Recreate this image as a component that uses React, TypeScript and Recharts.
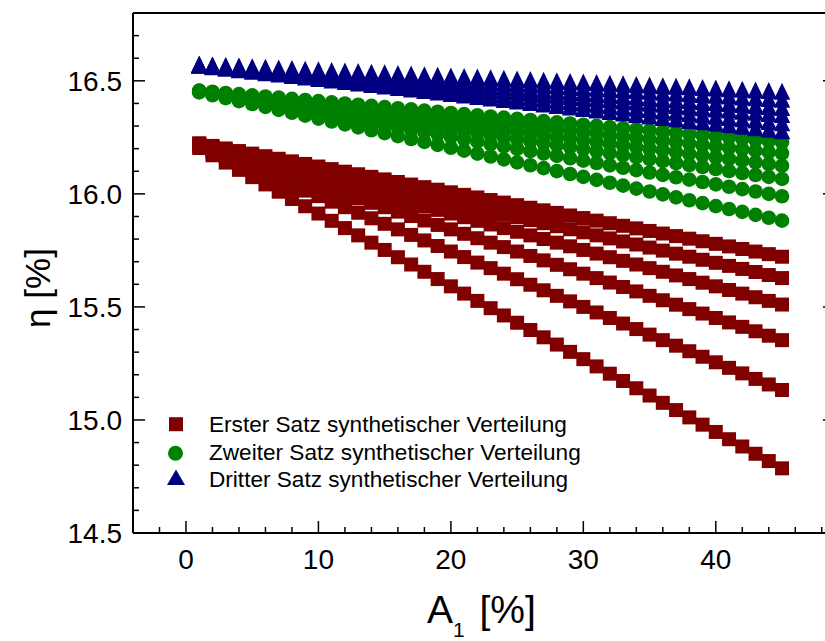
import { ScatterChart, Scatter, XAxis, YAxis, Legend } from 'recharts';

const FONT = '"Liberation Sans", Arial, Helvetica, sans-serif';

const A1 = [
  1, 2, 3, 4, 5, 6, 7, 8, 9, 10, 11, 12, 13, 14, 15, 16, 17, 18, 19, 20, 21, 22, 23,
  24, 25, 26, 27, 28, 29, 30, 31, 32, 33, 34, 35, 36, 37, 38, 39, 40, 41, 42, 43, 44, 45,
];

// Erster Satz (rot)
const erster1 = [
  16.2236, 16.2122, 16.2008, 16.1894, 16.178, 16.1666, 16.1552, 16.1438, 16.1324,
  16.121, 16.1096, 16.0982, 16.0868, 16.0754, 16.064, 16.0526, 16.0412, 16.0298,
  16.0184, 16.007, 15.9956, 15.9842, 15.9728, 15.9614, 15.95, 15.9386, 15.9272,
  15.9158, 15.9044, 15.893, 15.8816, 15.8702, 15.8588, 15.8474, 15.836, 15.8246,
  15.8132, 15.8018, 15.7904, 15.779, 15.7676, 15.7562, 15.7448, 15.7334, 15.722,
];
const erster2 = [
  16.2215, 16.208, 16.1945, 16.181, 16.1675, 16.154, 16.1405, 16.127, 16.1135,
  16.1, 16.0865, 16.073, 16.0595, 16.046, 16.0325, 16.019, 16.0055, 15.992,
  15.9785, 15.965, 15.9515, 15.938, 15.9245, 15.911, 15.8975, 15.884, 15.8705,
  15.857, 15.8435, 15.83, 15.8165, 15.803, 15.7895, 15.776, 15.7625, 15.749,
  15.7355, 15.722, 15.7085, 15.695, 15.6815, 15.668, 15.6545, 15.641, 15.6275,
];
const erster3 = [
  16.2189, 16.2028, 16.1867, 16.1706, 16.1545, 16.1384, 16.1223, 16.1062, 16.0901,
  16.074, 16.0579, 16.0418, 16.0257, 16.0096, 15.9935, 15.9774, 15.9613, 15.9452,
  15.9291, 15.913, 15.8969, 15.8808, 15.8647, 15.8486, 15.8325, 15.8164, 15.8003,
  15.7842, 15.7681, 15.752, 15.7359, 15.7198, 15.7037, 15.6876, 15.6715, 15.6554,
  15.6393, 15.6232, 15.6071, 15.591, 15.5749, 15.5588, 15.5427, 15.5266, 15.5105,
];
const erster4 = [
  16.2154, 16.1958, 16.1762, 16.1566, 16.137, 16.1174, 16.0978, 16.0782, 16.0586,
  16.039, 16.0194, 15.9998, 15.9802, 15.9606, 15.941, 15.9214, 15.9018, 15.8822,
  15.8626, 15.843, 15.8234, 15.8038, 15.7842, 15.7646, 15.745, 15.7254, 15.7058,
  15.6862, 15.6666, 15.647, 15.6274, 15.6078, 15.5882, 15.5686, 15.549, 15.5294,
  15.5098, 15.4902, 15.4706, 15.451, 15.4314, 15.4118, 15.3922, 15.3726, 15.353,
];
const erster5 = [
  16.2105, 16.186, 16.1615, 16.137, 16.1125, 16.088, 16.0635, 16.039, 16.0145,
  15.99, 15.9655, 15.941, 15.9165, 15.892, 15.8675, 15.843, 15.8185, 15.794,
  15.7695, 15.745, 15.7205, 15.696, 15.6715, 15.647, 15.6225, 15.598, 15.5735,
  15.549, 15.5245, 15.5, 15.4755, 15.451, 15.4265, 15.402, 15.3775, 15.353,
  15.3285, 15.304, 15.2795, 15.255, 15.2305, 15.206, 15.1815, 15.157, 15.1325,
];
const erster6 = [
  16.2028, 16.1706, 16.1384, 16.1062, 16.074, 16.0418, 16.0096, 15.9774, 15.9452,
  15.913, 15.8808, 15.8486, 15.8164, 15.7842, 15.752, 15.7198, 15.6876, 15.6554,
  15.6232, 15.591, 15.5588, 15.5266, 15.4944, 15.4622, 15.43, 15.3978, 15.3656,
  15.3334, 15.3012, 15.269, 15.2368, 15.2046, 15.1724, 15.1402, 15.108, 15.0758,
  15.0436, 15.0114, 14.9792, 14.947, 14.9148, 14.8826, 14.8504, 14.8182, 14.786,
];

// Zweiter Satz (gruen)
const zweiter1 = [
  16.4568, 16.4516, 16.4464, 16.4412, 16.436, 16.4308, 16.4256, 16.4204, 16.4152,
  16.41, 16.4048, 16.3996, 16.3944, 16.3892, 16.384, 16.3788, 16.3736, 16.3684,
  16.3632, 16.358, 16.3528, 16.3476, 16.3424, 16.3372, 16.332, 16.3268, 16.3216,
  16.3164, 16.3112, 16.306, 16.3008, 16.2956, 16.2904, 16.2852, 16.28, 16.2748,
  16.2696, 16.2644, 16.2592, 16.254, 16.2488, 16.2436, 16.2384, 16.2332, 16.228,
];
const zweiter2 = [
  16.4557, 16.4494, 16.4431, 16.4368, 16.4305, 16.4242, 16.4179, 16.4116, 16.4053,
  16.399, 16.3927, 16.3864, 16.3801, 16.3738, 16.3675, 16.3612, 16.3549, 16.3486,
  16.3423, 16.336, 16.3297, 16.3234, 16.3171, 16.3108, 16.3045, 16.2982, 16.2919,
  16.2856, 16.2793, 16.273, 16.2667, 16.2604, 16.2541, 16.2478, 16.2415, 16.2352,
  16.2289, 16.2226, 16.2163, 16.21, 16.2037, 16.1974, 16.1911, 16.1848, 16.1785,
];
const zweiter3 = [
  16.4545, 16.447, 16.4395, 16.432, 16.4245, 16.417, 16.4095, 16.402, 16.3945,
  16.387, 16.3795, 16.372, 16.3645, 16.357, 16.3495, 16.342, 16.3345, 16.327,
  16.3195, 16.312, 16.3045, 16.297, 16.2895, 16.282, 16.2745, 16.267, 16.2595,
  16.252, 16.2445, 16.237, 16.2295, 16.222, 16.2145, 16.207, 16.1995, 16.192,
  16.1845, 16.177, 16.1695, 16.162, 16.1545, 16.147, 16.1395, 16.132, 16.1245,
];
const zweiter4 = [
  16.4532, 16.4444, 16.4356, 16.4268, 16.418, 16.4092, 16.4004, 16.3916, 16.3828,
  16.374, 16.3652, 16.3564, 16.3476, 16.3388, 16.33, 16.3212, 16.3124, 16.3036,
  16.2948, 16.286, 16.2772, 16.2684, 16.2596, 16.2508, 16.242, 16.2332, 16.2244,
  16.2156, 16.2068, 16.198, 16.1892, 16.1804, 16.1716, 16.1628, 16.154, 16.1452,
  16.1364, 16.1276, 16.1188, 16.11, 16.1012, 16.0924, 16.0836, 16.0748, 16.066,
];
const zweiter5 = [
  16.4515, 16.441, 16.4305, 16.42, 16.4095, 16.399, 16.3885, 16.378, 16.3675,
  16.357, 16.3465, 16.336, 16.3255, 16.315, 16.3045, 16.294, 16.2835, 16.273,
  16.2625, 16.252, 16.2415, 16.231, 16.2205, 16.21, 16.1995, 16.189, 16.1785,
  16.168, 16.1575, 16.147, 16.1365, 16.126, 16.1155, 16.105, 16.0945, 16.084,
  16.0735, 16.063, 16.0525, 16.042, 16.0315, 16.021, 16.0105, 16.0, 15.9895,
];
const zweiter6 = [
  16.4491, 16.4362, 16.4233, 16.4104, 16.3975, 16.3846, 16.3717, 16.3588, 16.3459,
  16.333, 16.3201, 16.3072, 16.2943, 16.2814, 16.2685, 16.2556, 16.2427, 16.2298,
  16.2169, 16.204, 16.1911, 16.1782, 16.1653, 16.1524, 16.1395, 16.1266, 16.1137,
  16.1008, 16.0879, 16.075, 16.0621, 16.0492, 16.0363, 16.0234, 16.0105, 15.9976,
  15.9847, 15.9718, 15.9589, 15.946, 15.9331, 15.9202, 15.9073, 15.8944, 15.8815,
];

// Dritter Satz (blau)
const dritter1 = [
  16.5643, 16.5616, 16.5589, 16.5562, 16.5535, 16.5508, 16.5481, 16.5454, 16.5427,
  16.54, 16.5373, 16.5346, 16.5319, 16.5292, 16.5265, 16.5238, 16.5211, 16.5184,
  16.5157, 16.513, 16.5103, 16.5076, 16.5049, 16.5022, 16.4995, 16.4968, 16.4941,
  16.4914, 16.4887, 16.486, 16.4833, 16.4806, 16.4779, 16.4752, 16.4725, 16.4698,
  16.4671, 16.4644, 16.4617, 16.459, 16.4563, 16.4536, 16.4509, 16.4482, 16.4455,
];
const dritter2 = [
  16.5635, 16.56, 16.5565, 16.553, 16.5495, 16.546, 16.5425, 16.539, 16.5355,
  16.532, 16.5285, 16.525, 16.5215, 16.518, 16.5145, 16.511, 16.5075, 16.504,
  16.5005, 16.497, 16.4935, 16.49, 16.4865, 16.483, 16.4795, 16.476, 16.4725,
  16.469, 16.4655, 16.462, 16.4585, 16.455, 16.4515, 16.448, 16.4445, 16.441,
  16.4375, 16.434, 16.4305, 16.427, 16.4235, 16.42, 16.4165, 16.413, 16.4095,
];
const dritter3 = [
  16.5627, 16.5584, 16.5541, 16.5498, 16.5455, 16.5412, 16.5369, 16.5326, 16.5283,
  16.524, 16.5197, 16.5154, 16.5111, 16.5068, 16.5025, 16.4982, 16.4939, 16.4896,
  16.4853, 16.481, 16.4767, 16.4724, 16.4681, 16.4638, 16.4595, 16.4552, 16.4509,
  16.4466, 16.4423, 16.438, 16.4337, 16.4294, 16.4251, 16.4208, 16.4165, 16.4122,
  16.4079, 16.4036, 16.3993, 16.395, 16.3907, 16.3864, 16.3821, 16.3778, 16.3735,
];
const dritter4 = [
  16.562, 16.557, 16.552, 16.547, 16.542, 16.537, 16.532, 16.527, 16.522,
  16.517, 16.512, 16.507, 16.502, 16.497, 16.492, 16.487, 16.482, 16.477,
  16.472, 16.467, 16.462, 16.457, 16.452, 16.447, 16.442, 16.437, 16.432,
  16.427, 16.422, 16.417, 16.412, 16.407, 16.402, 16.397, 16.392, 16.387,
  16.382, 16.377, 16.372, 16.367, 16.362, 16.357, 16.352, 16.347, 16.342,
];
const dritter5 = [
  16.5612, 16.5554, 16.5496, 16.5438, 16.538, 16.5322, 16.5264, 16.5206, 16.5148,
  16.509, 16.5032, 16.4974, 16.4916, 16.4858, 16.48, 16.4742, 16.4684, 16.4626,
  16.4568, 16.451, 16.4452, 16.4394, 16.4336, 16.4278, 16.422, 16.4162, 16.4104,
  16.4046, 16.3988, 16.393, 16.3872, 16.3814, 16.3756, 16.3698, 16.364, 16.3582,
  16.3524, 16.3466, 16.3408, 16.335, 16.3292, 16.3234, 16.3176, 16.3118, 16.306,
];
const dritter6 = [
  16.5604, 16.5538, 16.5472, 16.5406, 16.534, 16.5274, 16.5208, 16.5142, 16.5076,
  16.501, 16.4944, 16.4878, 16.4812, 16.4746, 16.468, 16.4614, 16.4548, 16.4482,
  16.4416, 16.435, 16.4284, 16.4218, 16.4152, 16.4086, 16.402, 16.3954, 16.3888,
  16.3822, 16.3756, 16.369, 16.3624, 16.3558, 16.3492, 16.3426, 16.336, 16.3294,
  16.3228, 16.3162, 16.3096, 16.303, 16.2964, 16.2898, 16.2832, 16.2766, 16.27,
];

const xMajorTicks = [0, 10, 20, 30, 40];
const xAllTicks = [
  -4, -2, 0, 2, 4, 6, 8, 10, 12, 14, 16, 18, 20, 22, 24, 26, 28, 30, 32, 34, 36, 38, 40,
  42, 44, 46, 48,
];
const yMajorTicks = [14.5, 15.0, 15.5, 16.0, 16.5];
const yAllTicks = [
  14.5, 14.6, 14.7, 14.8, 14.9, 15.0, 15.1, 15.2, 15.3, 15.4, 15.5, 15.6, 15.7, 15.8,
  15.9, 16.0, 16.1, 16.2, 16.3, 16.4, 16.5, 16.6, 16.7, 16.8,
];

const seriesNames = [
  'Erster Satz synthetischer Verteilung',
  'Zweiter Satz synthetischer Verteilung',
  'Dritter Satz synthetischer Verteilung',
];

const RED = '#800000';
const GREEN = '#008000';
const BLUE = '#000080';

const toPoints = (ys: number[]) => A1.map((a, i) => ({ x: a, y: ys[i] }));

const isMajorX = (v: number) => xMajorTicks.includes(v);
const isMajorY = (v: number) => yMajorTicks.some((m) => Math.abs(m - v) < 1e-6);

function SquareMark({ cx, cy }: any) {
  return <rect x={cx - 7} y={cy - 7} width={14} height={14} fill={RED} />;
}
function CircleMark({ cx, cy }: any) {
  return <circle cx={cx} cy={cy} r={7.3} fill={GREEN} />;
}
function TriangleMark({ cx, cy }: any) {
  return <polygon points={`${cx},${cy - 10.5} ${cx + 8.2},${cy + 6.5} ${cx - 8.2},${cy + 6.5}`} fill={BLUE} />;
}

function BottomTick({ x, y, payload }: any) {
  const major = isMajorX(payload.value);
  return (
    <g>
      <line x1={x} x2={x} y1={y} y2={y - (major ? 12 : 6)} stroke="#000" strokeWidth={1.5} />
      {major && (
        <text x={x} y={y + 35.5} textAnchor="middle" fontSize={28} fontFamily={FONT} fill="#000">
          {payload.value}
        </text>
      )}
    </g>
  );
}
function TopTick({ x, y, payload }: any) {
  const major = isMajorX(payload.value);
  return <line x1={x} x2={x} y1={y} y2={y + (major ? 12 : 6)} stroke="#000" strokeWidth={1.5} />;
}
function LeftTick({ x, y, payload }: any) {
  const major = isMajorY(payload.value);
  return (
    <g>
      <line x1={x} x2={x + (major ? 12 : 6)} y1={y} y2={y} stroke="#000" strokeWidth={1.5} />
      {major && (
        <text x={x - 11} y={y + 10} textAnchor="end" fontSize={28} fontFamily={FONT} fill="#000">
          {Number(payload.value).toFixed(1)}
        </text>
      )}
    </g>
  );
}
function RightTick({ x, y, payload }: any) {
  if (!isMajorY(payload.value)) return <g />;
  return <line x1={x} x2={x - 12} y1={y} y2={y} stroke="#000" strokeWidth={1.5} />;
}

function renderLegend(props: any) {
  const all = (props.payload || []) as any[];
  // one row per set, skip hidden entries
  const items = seriesNames
    .map((n) => all.find((e) => e.value === n && e.type && e.type !== 'none'))
    .filter(Boolean) as any[];
  const rows = [
    { my: 19.2, ty: 26.7 },
    { my: 48.3, ty: 55 },
    { my: 73.5, ty: 82.3 },
  ];
  return (
    <svg width={460} height={95} style={{ display: 'block' }}>
      {items.map((it, i) => {
        const r = rows[i];
        let mark;
        if (it.type === 'square') {
          mark = <rect x={9} y={r.my - 7} width={14} height={14} fill={it.color} />;
        } else if (it.type === 'circle') {
          mark = <circle cx={15.5} cy={r.my} r={7.5} fill={it.color} />;
        } else {
          mark = <polygon points={`16,${r.my - 9} 25,${r.my + 6.5} 7,${r.my + 6.5}`} fill={it.color} />;
        }
        return (
          <g key={it.value}>
            {mark}
            <text x={49} y={r.ty} fontSize={22.6} fontFamily={FONT} fill="#000">
              {it.value}
            </text>
          </g>
        );
      })}
    </svg>
  );
}

const redSets = [erster1, erster2, erster3, erster4, erster5, erster6];
const greenSets = [zweiter1, zweiter2, zweiter3, zweiter4, zweiter5, zweiter6];
const blueSets = [dritter1, dritter2, dritter3, dritter4, dritter5, dritter6];

export default function App() {
  const axisLine = { stroke: '#000', strokeWidth: 2 };
  return (
    <div
      style={{
        position: 'absolute',
        left: 0,
        top: 0,
        width: 825,
        height: 641,
        overflow: 'hidden',
        background: '#fff',
      }}
    >
      <ScatterChart width={840} height={641} margin={{ top: 3, right: 0, bottom: 0, left: 0 }}>
        <XAxis
          xAxisId="b"
          type="number"
          dataKey="x"
          domain={[-4, 49]}
          ticks={xAllTicks}
          interval={0}
          tickSize={0}
          tickMargin={0}
          tickLine={false}
          tick={(p: any) => <BottomTick {...p} />}
          axisLine={axisLine}
          height={108}
          allowDataOverflow
        />
        <XAxis
          xAxisId="t"
          orientation="top"
          type="number"
          domain={[-4, 49]}
          ticks={xAllTicks}
          interval={0}
          tickSize={0}
          tickMargin={0}
          tickLine={false}
          tick={(p: any) => <TopTick {...p} />}
          axisLine={axisLine}
          height={10}
          allowDataOverflow
        />
        <YAxis
          yAxisId="l"
          type="number"
          dataKey="y"
          domain={[14.5, 16.8]}
          ticks={yAllTicks}
          interval={0}
          tickSize={0}
          tickMargin={0}
          tickLine={false}
          tick={(p: any) => <LeftTick {...p} />}
          axisLine={axisLine}
          width={133}
          allowDataOverflow
        />
        <YAxis
          yAxisId="r"
          orientation="right"
          type="number"
          domain={[14.5, 16.8]}
          ticks={yAllTicks}
          interval={0}
          tickSize={0}
          tickMargin={0}
          tickLine={false}
          tick={(p: any) => <RightTick {...p} />}
          axisLine={axisLine}
          width={5}
          allowDataOverflow
        />
        {redSets.map((ys, i) => (
          <Scatter
            key={`r${i}`}
            xAxisId="b"
            yAxisId="l"
            data={toPoints(ys)}
            name={seriesNames[0]}
            fill={RED}
            legendType={i === 0 ? 'square' : 'none'}
            shape={(p: any) => <SquareMark {...p} />}
            isAnimationActive={false}
          />
        ))}
        {greenSets.map((ys, i) => (
          <Scatter
            key={`g${i}`}
            xAxisId="b"
            yAxisId="l"
            data={toPoints(ys)}
            name={seriesNames[1]}
            fill={GREEN}
            legendType={i === 0 ? 'circle' : 'none'}
            shape={(p: any) => <CircleMark {...p} />}
            isAnimationActive={false}
          />
        ))}
        {blueSets.map((ys, i) => (
          <Scatter
            key={`b${i}`}
            xAxisId="b"
            yAxisId="l"
            data={toPoints(ys)}
            name={seriesNames[2]}
            fill={BLUE}
            legendType={i === 0 ? 'triangle' : 'none'}
            shape={(p: any) => <TriangleMark {...p} />}
            isAnimationActive={false}
          />
        ))}
        <Legend
          layout="vertical"
          align="center"
          verticalAlign="middle"
          wrapperStyle={{ left: 160, top: 405, width: 460, height: 95 }}
          content={renderLegend}
        />
      </ScatterChart>
      <svg
        width={825}
        height={641}
        style={{ position: 'absolute', left: 0, top: 0, pointerEvents: 'none' }}
      >
        <text x={427} y={623} fontSize={39} fontFamily={FONT} fill="#000">
          A
          <tspan fontSize={21} dy={14}>1</tspan>
          <tspan fontSize={39} dy={-14} dx={4}> [%]</tspan>
        </text>
        <text
          transform="translate(50, 288) rotate(-90)"
          textAnchor="middle"
          fontSize={35}
          fontFamily={FONT}
          fill="#000"
        >
          η [%]
        </text>
      </svg>
    </div>
  );
}
